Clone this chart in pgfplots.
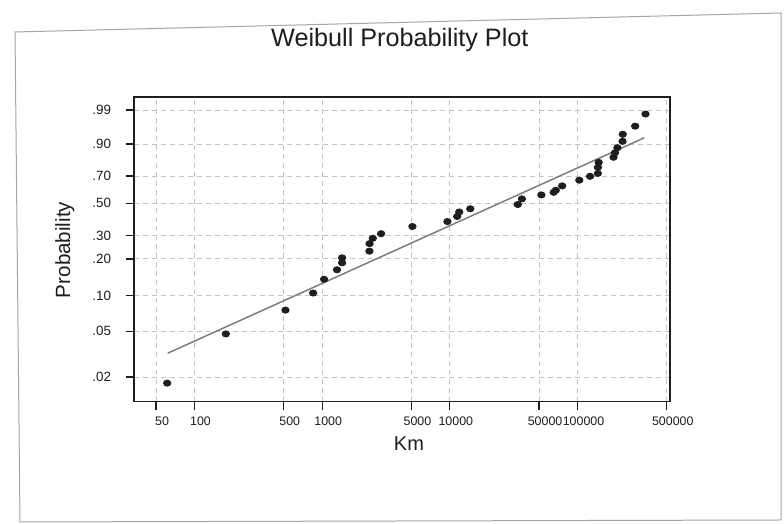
\documentclass[border=0pt]{standalone}
\usepackage{pgfplots}
\usepackage{pgfplotstable}
\pgfplotsset{compat=1.18}
\usepackage{fontspec}
\setmainfont{Liberation Sans}

\definecolor{wbink}{HTML}{1E1E1E}
\definecolor{wbfit}{HTML}{7E7E7E}
\definecolor{wbgrid}{HTML}{C4C4C4}

% failure distance (km) and median-rank probability
\pgfplotstableread{
km      p
61.1    0.0177
176     0.0474
516     0.0758
850     0.1056
1035    0.1371
1307    0.1638
1433    0.1861
1433    0.2038
2345    0.2298
2350    0.2623
2489    0.2878
2895    0.3111
5093    0.3503
9572    0.3791
11420   0.4105
11850   0.4397
14460   0.4611
34050   0.4905
36660   0.5304
52120   0.5594
65050   0.5786
67590   0.5936
75860   0.6262
103300  0.6689
125400  0.6976
144300  0.7188
144500  0.7615
146500  0.7955
191300  0.8282
196800  0.8553
205300  0.8824
225400  0.9127
226000  0.9398
283000  0.9636
340600  0.9856
}\failures

\pgfplotstableread{
km      p
61.8    0.0323
333400  0.9270
}\fitline

\begin{document}
\begin{tikzpicture}
% page = 784 x 524 px at 0.5pt per px
\fill[white] (0,0) rectangle (392pt,262pt);
\draw[black!35, line width=0.5pt] (7.5pt,246pt) -- (390.5pt,255.5pt) -- (390.5pt,2pt) -- (10pt,1pt) -- cycle;

\begin{axis}[
  scale only axis,
  width=268pt, height=152.35pt,
  at={(67pt,61.15pt)}, anchor=south west,
  xmode=log,
  xmin=33.6, xmax=530000,
  ymin=-4.402, ymax=1.791,
  xtick={50,100,500,1000,5000,10000,50000,100000,500000},
  xticklabels={50,100,500,1000,5000,10000,50000,100000,500000},
  ytick={-3.9020,-2.9702,-2.2504,-1.4999,-1.0309,-0.3665,0.1856,0.8340,1.5272},
  yticklabels={.02,.05,.10,.20,.30,.50,.70,.90,.99},
  xtick pos=lower, ytick pos=left,
  tick align=outside, major tick length=4pt,
  tick style={color=wbink, line width=0.6pt},
  axis line style={color=wbink, line width=0.8pt},
  x tick label style={font=\fontsize{6.2}{7}\selectfont, color=wbink, xshift=3pt},
  y tick label style={font=\fontsize{6.7}{7.5}\selectfont, color=wbink, xshift=-4pt},
  grid=major, grid style={color=wbgrid, line width=0.45pt, dash pattern=on 2.5pt off 2pt},
  title={Weibull Probability Plot},
  title style={font=\fontsize{12.6}{14}\selectfont, color=wbink, yshift=0pt,
               at={(axis description cs:0.496,1.148)}, anchor=center},
  xlabel={Km},
  xlabel style={font=\fontsize{10}{12}\selectfont, color=wbink,
                at={(axis description cs:0.513,-0.139)}, anchor=center},
  ylabel={Probability},
  ylabel style={font=\fontsize{10.3}{12}\selectfont, color=wbink,
                at={(axis description cs:-0.129,0.498)}, anchor=center},
  clip=false,
]
\addplot[color=wbfit, line width=0.75pt]
  table[x=km, y expr={ln(-ln(1-\thisrow{p}))}] {\fitline};
\addplot[only marks, mark=*, mark size=1.55pt,
         mark options={xscale=1.2, fill=wbink, draw=wbink}]
  table[x=km, y expr={ln(-ln(1-\thisrow{p}))}] {\failures};
\end{axis}
\end{tikzpicture}
\end{document}
